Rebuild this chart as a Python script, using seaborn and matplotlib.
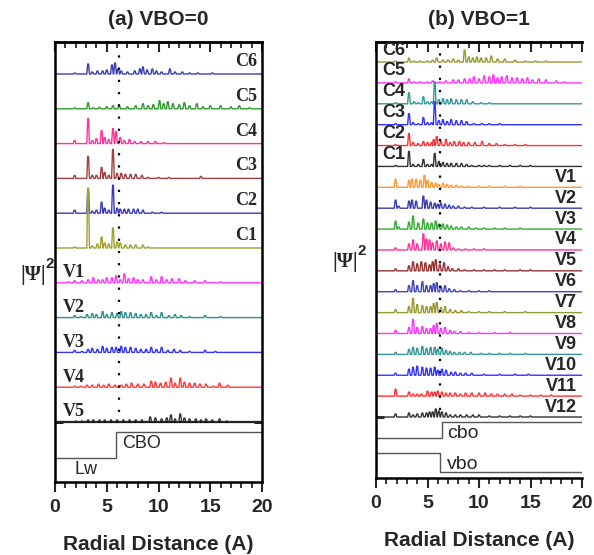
import matplotlib
matplotlib.use("Agg")
import matplotlib.pyplot as plt
from matplotlib.ticker import MultipleLocator
import seaborn as sns
import pandas as pd

sns.set_style("white")
plt.rcParams['font.family'] = ['Liberation Sans', 'DejaVu Sans']

# ---------------- data: peak positions (A) and heights (arb.) ----------------
# Panel (a) VBO=0
a_C6 = [(1.9,1),(3.2,10),(3.6,2),(4.1,3),(4.6,3),(5.0,4),(5.5,9),(5.8,11),(6.1,5),(6.4,3),(7.0,2),(7.7,3),(8.2,5),(8.5,7),(8.9,4),(9.4,5),(9.8,3),(10.3,2),(11.1,5),(11.6,2),(12.3,2),(13.0,1),(13.8,1),(15.2,1)]
a_C5 = [(1.9,1),(3.2,6),(3.7,1),(4.3,1.5),(5.0,2),(5.6,3),(6.2,3),(7.0,2),(7.8,3),(8.5,5),(9.0,3),(9.5,4),(10.1,8),(10.5,5),(10.9,7),(11.4,5),(12.0,4),(12.5,6),(13.0,3),(13.7,5),(14.3,2),(15.0,3),(16.0,3),(17.0,2),(17.8,3),(18.8,1)]
a_C4 = [(1.9,3),(3.2,25),(3.6,3),(4.0,5),(4.5,13),(4.8,6),(5.2,4),(5.6,15),(5.9,12),(6.3,6),(6.7,3),(7.2,4),(7.7,2),(8.3,2),(9.0,2),(9.7,2),(10.5,1)]
a_C3 = [(1.9,3),(3.2,22),(3.6,3),(4.0,3),(4.5,11),(4.8,6),(5.2,3),(5.6,29),(6.0,5),(6.4,5),(6.8,4),(7.3,4),(7.8,4),(8.4,3),(9.0,1),(10.0,1),(11.0,1),(14.1,2)]
a_C2 = [(1.9,3),(3.2,23),(3.6,2),(4.0,3),(4.5,11),(4.8,5),(5.2,3),(5.6,28),(6.0,5),(6.3,4),(6.7,4),(7.1,4),(7.6,4),(8.0,4),(8.5,3),(9.4,1),(10.3,1)]
a_C1 = [(1.9,1),(3.2,60),(3.6,2),(4.1,4),(4.5,11),(4.8,5),(5.2,4),(5.6,20),(6.0,6),(6.3,5),(6.8,3),(7.3,3),(7.8,3),(8.5,3),(9.0,1)]
a_V1 = [(1.3,1),(1.9,2),(2.6,2),(3.2,3),(3.7,5),(4.2,3),(4.6,3),(5.0,5),(5.5,5),(5.9,7),(6.3,3),(6.7,9),(7.1,4),(7.6,5),(8.0,3),(8.5,3),(9.3,6),(9.8,3),(10.3,6),(10.8,3),(11.3,4),(12.0,4),(12.6,2),(13.5,2),(14.5,2),(16.0,1)]
a_V2 = [(1.9,2),(2.5,1),(3.1,3),(3.6,4),(4.0,3),(4.6,6),(5.0,3),(5.5,5),(6.0,4),(6.4,6),(6.8,5),(7.3,5),(7.8,4),(8.3,3),(8.8,3),(9.3,5),(9.8,2),(10.3,5),(11.0,2),(11.6,3),(12.2,2),(13.0,1),(14.5,2),(16.0,1)]
a_V3 = [(1.9,2),(2.6,1),(3.2,3),(3.6,4),(4.1,3),(4.6,6),(5.0,4),(5.5,5),(5.9,5),(6.4,6),(6.8,5),(7.3,5),(7.8,4),(8.3,3),(8.8,3),(9.3,5),(9.8,3),(10.3,5),(10.9,2),(11.5,3),(12.1,2),(13.0,1),(14.5,2),(15.5,1)]
a_V4 = [(1.9,1),(2.5,1),(3.1,2),(3.6,2),(4.2,3),(4.7,2),(5.2,3),(5.8,2),(6.4,2),(6.9,3),(7.4,4),(8.0,3),(8.6,3),(9.3,6),(9.7,5),(10.2,4),(10.7,5),(11.2,9),(11.6,4),(12.1,9),(12.5,5),(13.0,4),(13.5,4),(14.0,3),(14.6,3),(15.3,1),(15.9,4),(16.7,2)]
a_V5 = [(2.0,1),(2.6,1),(3.2,2),(3.7,2),(4.3,2),(4.8,2),(5.4,2),(6.0,2),(6.6,2),(7.2,2),(7.8,2),(8.4,2),(9.2,5),(9.7,4),(10.3,3),(10.8,4),(11.2,7),(11.6,3),(12.1,8),(12.5,4),(13.0,3),(13.6,3),(14.1,2),(14.6,3),(15.2,2),(15.9,3),(16.6,1)]

# Panel (b) VBO=1
b_C6 = [(1.9,1),(3.2,4),(3.7,1),(4.3,1),(5.0,1),(5.5,2),(5.9,4),(6.5,2),(7.0,2),(7.5,3),(8.0,2),(8.6,12),(9.0,5),(9.4,4),(9.8,5),(10.2,4),(10.7,4),(11.2,6),(11.8,3),(12.5,3),(13.5,2),(14.5,1),(15.5,1),(16.5,1)]
b_C5 = [(1.9,1),(3.2,4),(3.7,1),(4.3,1),(5.0,1),(5.5,2),(6.2,1),(6.8,2),(7.5,3),(8.0,3),(8.6,4),(9.1,4),(9.5,6),(10.0,4),(10.5,7),(11.0,6),(11.4,8),(11.8,5),(12.2,6),(12.7,7),(13.2,5),(13.7,5),(14.2,4),(14.7,5),(15.2,3),(15.8,4),(16.5,3),(17.5,2),(18.3,1)]
b_C4 = [(1.9,1),(3.2,11),(3.7,2),(4.1,1),(4.6,7),(5.0,2),(5.4,2),(5.7,22),(6.1,4),(6.5,5),(6.9,4),(7.3,5),(7.8,4),(8.3,4),(8.8,4),(9.4,2),(10.2,1),(11.0,1)]
b_C3 = [(1.9,1),(3.2,11),(3.6,2),(4.1,1),(4.6,7),(5.0,2),(5.4,2),(5.7,23),(6.1,4),(6.5,5),(6.9,3),(7.3,5),(7.8,4),(8.3,4),(8.8,3),(9.5,1),(10.3,1),(11.0,1),(12.0,1)]
b_C2 = [(1.9,1),(3.2,12),(3.6,3),(4.1,2),(4.6,4),(5.0,3),(5.4,3),(5.6,6),(5.9,9),(6.3,4),(6.8,6),(7.2,3),(7.6,4),(8.1,4),(8.5,3),(9.0,3),(9.6,3),(10.3,4),(11.0,2),(11.7,2),(12.5,1),(13.5,1),(14.5,1)]
b_C1 = [(1.9,1),(3.2,15),(3.6,2),(4.1,2),(4.6,7),(5.0,2),(5.4,2),(5.7,13),(6.1,5),(6.5,4),(6.9,3),(7.3,3),(7.8,3),(8.3,3),(8.8,2),(9.3,1),(10.0,1),(10.5,1),(11.0,1),(12.0,1),(13.0,1),(14.0,1),(15.0,1)]
b_V1 = [(1.9,8),(3.2,7),(3.5,8),(3.9,8),(4.3,7),(4.7,12),(5.0,7),(5.4,5),(5.8,4),(6.1,3),(6.5,4),(6.9,3),(7.3,2),(7.8,2),(8.3,1),(9.0,1),(10.0,1),(11.0,1),(12.5,1),(14.0,1)]
b_V2 = [(1.9,8),(2.2,2),(3.2,7),(3.5,8),(3.9,7),(4.6,12),(4.9,8),(5.3,6),(5.7,5),(6.0,4),(6.3,5),(6.7,4),(7.1,3),(7.5,2),(8.0,2),(8.6,1),(9.3,1),(10.5,1),(12.0,1),(13.5,1),(15.0,1)]
b_V3 = [(1.9,8),(2.2,2),(3.2,7),(3.6,13),(4.1,6),(4.6,10),(5.0,6),(5.4,6),(5.8,8),(6.1,5),(6.5,5),(6.9,4),(7.3,3),(7.8,2),(8.3,2),(9.0,2),(9.7,1),(10.5,1),(11.5,1),(12.5,1),(14.0,1)]
b_V4 = [(1.9,2),(3.2,6),(3.6,10),(4.0,6),(4.6,16),(4.9,11),(5.2,10),(5.5,7),(5.9,9),(6.3,6),(6.7,8),(7.1,7),(7.5,2),(8.0,1),(8.7,1),(9.5,1),(10.5,1)]
b_V5 = [(1.9,2),(3.2,5),(3.6,9),(4.0,7),(4.4,9),(4.8,8),(5.2,6),(5.5,9),(5.8,11),(6.2,6),(6.6,8),(7.0,4),(7.4,2),(8.0,2),(8.6,1),(9.5,1),(10.5,1),(11.5,1),(12.5,1),(14.0,1),(15.0,1)]
b_V6 = [(1.9,2),(3.2,6),(3.6,11),(4.0,6),(4.5,10),(4.9,6),(5.3,6),(5.6,8),(5.9,9),(6.3,5),(6.7,6),(7.1,3),(7.6,2),(8.2,1),(9.0,1),(10.0,1),(11.0,1)]
b_V7 = [(1.9,3),(3.2,6),(3.6,14),(4.0,8),(4.5,7),(4.9,6),(5.3,6),(5.6,9),(5.9,10),(6.3,5),(6.7,6),(7.2,3),(7.7,2),(8.3,2),(9.0,1),(10.0,1),(11.0,1),(12.5,1),(14.5,1)]
b_V8 = [(1.9,3),(3.2,6),(3.6,14),(4.0,6),(4.5,7),(4.9,5),(5.3,5),(5.6,8),(5.9,10),(6.3,5),(6.7,6),(7.2,3),(7.6,2),(8.2,2),(9.0,1),(10.0,1),(11.5,1),(13.0,1)]
b_V9 = [(1.9,2),(3.2,5),(3.6,7),(4.0,6),(4.5,8),(4.9,6),(5.3,7),(5.7,7),(6.0,5),(6.4,6),(6.8,4),(7.2,3),(7.6,2),(8.1,2),(8.6,2),(9.2,2),(10.2,1),(11.0,1),(12.0,1),(13.0,1),(14.5,1)]
b_V10 = [(1.9,2),(3.2,6),(3.6,8),(4.0,9),(4.5,8),(4.9,7),(5.3,7),(5.7,8),(6.0,5),(6.4,6),(6.8,5),(7.3,3),(7.7,3),(8.2,2),(8.7,2),(9.3,2),(10.5,1),(12.0,1),(13.5,1),(14.8,1)]
b_V11 = [(1.9,7),(3.2,4),(3.6,2),(4.0,2),(4.4,2),(5.0,5),(5.4,4),(5.7,4),(6.0,5),(6.4,4),(6.8,3),(7.2,3),(7.7,3),(8.2,2),(8.7,3),(9.3,3),(10.0,3),(10.6,3),(11.2,2),(11.8,2),(12.5,2),(13.2,2),(14.0,1),(15.0,1),(16.0,1),(17.0,1)]
b_V12 = [(1.9,3),(3.2,4),(3.6,2),(4.0,3),(4.5,4),(4.9,4),(5.2,5),(5.5,5),(5.8,8),(6.1,6),(6.4,5),(6.8,4),(7.2,2),(7.7,2),(8.2,2),(8.8,2),(9.4,2),(10.0,2),(11.0,1),(12.0,1),(13.0,1),(14.0,1),(15.0,1)]

# series order (top to bottom), labels and colours
a_names = ["C6", "C5", "C4", "C3", "C2", "C1", "V1", "V2", "V3", "V4", "V5"]
a_peaks = [a_C6, a_C5, a_C4, a_C3, a_C2, a_C1, a_V1, a_V2, a_V3, a_V4, a_V5]
a_colors = ["#3c3cb0", "#2e9a2e", "#ff3399", "#a04040", "#3b3bb8", "#a0a030",
            "#ff33ff", "#2f9090", "#3333ff", "#ff3b3b", "#333333"]

b_names = ["C6", "C5", "C4", "C3", "C2", "C1", "V1", "V2", "V3", "V4", "V5", "V6",
           "V7", "V8", "V9", "V10", "V11", "V12"]
b_peaks = [b_C6, b_C5, b_C4, b_C3, b_C2, b_C1, b_V1, b_V2, b_V3, b_V4, b_V5, b_V6,
           b_V7, b_V8, b_V9, b_V10, b_V11, b_V12]
b_colors = ["#999933", "#ff33ff", "#339999", "#3333ff", "#ff3333", "#333333",
            "#ff9933", "#3b3bb0", "#33aa33", "#ff3399", "#993333", "#4444bb",
            "#999933", "#ff33ff", "#339999", "#3333ff", "#ff3333", "#333333"]

# band-offset profiles: edge position (A) and levels (arb.)
a_edge = 5.9          # well width / CBO step
a_cbo_levels = (24, 50)
b_cbo_edge = 6.4
b_cbo_levels = (40, 56)
b_vbo_edge = 6.2
b_vbo_levels = (25, 6)
dot_x = 6.2

x_min, x_max = 0, 20


def spectrum(peaks, w=0.13):
    xs, ys = [x_min], [0.0]
    for x, h in sorted(peaks):
        xs += [x - w, x - w * 0.3, x + w * 0.3, x + w]
        ys += [0.0, h, h, 0.0]
    xs.append(x_max)
    ys.append(0.0)
    return pd.DataFrame({"r": xs, "psi": ys})


fig = plt.figure(figsize=(5.94, 5.55), dpi=100)
axA = fig.add_axes([55 / 594, 73 / 555, 207 / 594, 440 / 555])
axB = fig.add_axes([376 / 594, 77 / 555, 206 / 594, 436 / 555])

serif_bold = dict(family=['Liberation Serif', 'DejaVu Serif'], fontweight='bold')


def style_axis(ax, ylim, right_spine=True):
    ax.set_xlim(x_min, x_max)
    ax.set_ylim(*ylim)
    ax.xaxis.set_major_locator(MultipleLocator(5))
    ax.xaxis.set_minor_locator(MultipleLocator(1))
    ax.tick_params(axis='x', which='major', direction='out', length=7, width=1.5,
                   bottom=True, top=False, labelsize=14, pad=5)
    ax.tick_params(axis='x', which='minor', direction='out', length=4, width=1.3,
                   bottom=True, top=False)
    for lab in ax.get_xticklabels():
        lab.set_fontweight('bold')
    for side in ['left', 'bottom', 'top', 'right']:
        ax.spines[side].set_linewidth(1.8)
        ax.spines[side].set_color('black')
    ax.spines['right'].set_visible(right_spine)
    top = ax.secondary_xaxis('top')
    top.xaxis.set_major_locator(MultipleLocator(5))
    top.xaxis.set_minor_locator(MultipleLocator(1))
    top.tick_params(axis='x', which='major', direction='in', length=7, width=1.5, labeltop=False)
    top.tick_params(axis='x', which='minor', direction='in', length=4, width=1.3)
    top.set_xticklabels([])
    top.spines['top'].set_linewidth(1.8)
    ax.set_xlabel("Radial Distance (A)", fontsize=15, fontweight='bold', labelpad=14)


# ---------------- panel (a) ----------------
a_base, a_step = 60, 34.8
n = len(a_names)
axA.axhline(a_base, color='black', lw=1.6, zorder=1)
for i, (name, pk, col) in enumerate(zip(a_names, a_peaks, a_colors)):
    off = a_base + (n - 1 - i) * a_step
    df = spectrum(pk)
    df["psi"] = df["psi"] + off
    sns.lineplot(data=df, x="r", y="psi", ax=axA, color=col, lw=1.0,
                 sort=False, estimator=None, zorder=2)
    if name.startswith("C"):
        axA.text(19.5, off + 4, name, ha='right', va='bottom', fontsize=13, **serif_bold)
    else:
        axA.text(0.8, off + 1.5, name, ha='left', va='bottom', fontsize=13, **serif_bold)
axA.plot([dot_x, dot_x], [70, 432], color='black', lw=1.6, ls=(0, (1, 4.5)), zorder=3)
axA.plot([x_min, a_edge, a_edge, x_max],
         [a_cbo_levels[0], a_cbo_levels[0], a_cbo_levels[1], a_cbo_levels[1]],
         color='#555555', lw=1.0)
axA.text(a_edge + 0.6, a_cbo_levels[1] - 3, "CBO", ha='left', va='top', fontsize=13)
axA.text(1.9, a_cbo_levels[0] - 3, "Lw", ha='left', va='top', fontsize=13)
style_axis(axA, (0, 440))
axA.set_yticks([a_base])
axA.set_yticklabels([])
axA.tick_params(axis='y', direction='in', length=6, width=2.2, left=True, right=True)
axA.set_ylabel("")
axA.set_title("(a) VBO=0", fontsize=15, fontweight='bold', pad=12)

# ---------------- panel (b) ----------------
b_base, b_step = 61, 20.88
n = len(b_names)
for i, (name, pk, col) in enumerate(zip(b_names, b_peaks, b_colors)):
    off = b_base + (n - 1 - i) * b_step
    df = spectrum(pk)
    df["psi"] = df["psi"] + off
    sns.lineplot(data=df, x="r", y="psi", ax=axB, color=col, lw=1.0,
                 sort=False, estimator=None, zorder=2)
    if name.startswith("C"):
        axB.text(0.6, off + 3.5, name, ha='left', va='bottom', fontsize=13, fontweight='bold')
    else:
        axB.text(19.5, off + 1.5, name, ha='right', va='bottom', fontsize=13, fontweight='bold')
axB.plot([dot_x, dot_x], [68, 431], color='black', lw=1.6, ls=(0, (1, 4.5)), zorder=3)
axB.plot([x_min, b_cbo_edge, b_cbo_edge, x_max],
         [b_cbo_levels[0], b_cbo_levels[0], b_cbo_levels[1], b_cbo_levels[1]],
         color='#555555', lw=1.0)
axB.plot([x_min, b_vbo_edge, b_vbo_edge, x_max],
         [b_vbo_levels[0], b_vbo_levels[0], b_vbo_levels[1], b_vbo_levels[1]],
         color='#555555', lw=1.0)
axB.text(b_cbo_edge + 0.5, b_cbo_levels[1] - 3, "cbo", ha='left', va='top', fontsize=14)
axB.text(b_vbo_edge + 0.7, b_vbo_levels[0] - 3, "vbo", ha='left', va='top', fontsize=14)
style_axis(axB, (0, 436), right_spine=False)
axB.set_yticks([b_base])
axB.set_yticklabels([])
axB.tick_params(axis='y', direction='in', length=6, width=2.2, left=True, right=False)
axB.set_ylabel("")
axB.set_title("(b) VBO=1", fontsize=15, fontweight='bold', pad=12)

# y labels |Psi|^2
for xp, yp in [(33, 280), (345, 267)]:
    fig.text(xp / 594, 1 - yp / 555, "|Ψ|", ha='center', va='baseline', fontsize=15, **serif_bold)
    fig.text((xp + 13) / 594, 1 - (yp - 12) / 555, "2", ha='left', va='baseline',
             fontsize=11, fontweight='bold')

fig.savefig("out.png", dpi=100)
